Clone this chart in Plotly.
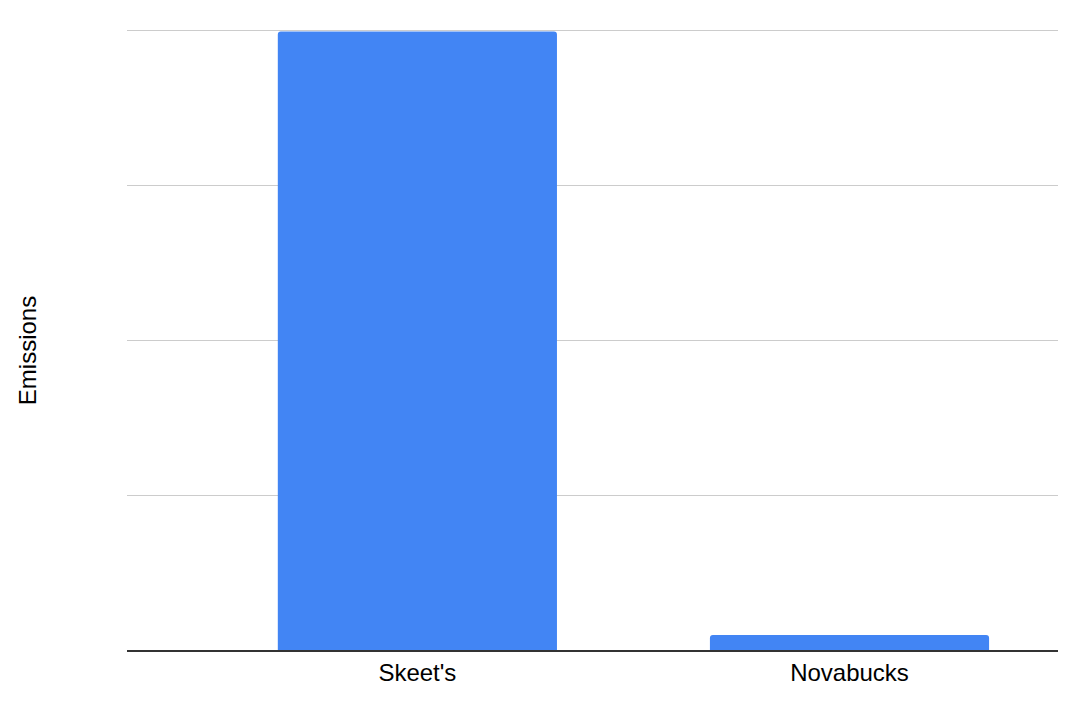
import plotly.graph_objects as go

categories = ["Skeet's", "Novabucks"]
emissions = [399.2, 9.7]
y_ticks = [0, 100, 200, 300, 400]

fig = go.Figure(go.Bar(
    x=categories, y=emissions,
    marker=dict(color="#4285F4", cornerradius=3, line=dict(width=0)),
    width=0.646,
))

fig.update_layout(
    width=1058, height=700,
    margin=dict(l=119, r=0, t=16, b=58),
    paper_bgcolor="white", plot_bgcolor="white",
    font=dict(family="Liberation Sans, Arial, sans-serif", size=24, color="#000"),
    showlegend=False,
    xaxis=dict(range=[-0.672, 1.501], showline=True, linecolor="#333", linewidth=2,
               ticks="", showgrid=False, tickfont=dict(size=24), fixedrange=True),
    yaxis=dict(range=[0, 404], tickvals=y_ticks, showticklabels=False, showgrid=True,
               gridcolor="#cccccc", gridwidth=1, zeroline=False, ticks="",
               automargin=False, fixedrange=True),
    annotations=[dict(text="Emissions", textangle=-90, xref="paper", yref="paper",
                      x=-0.1065, y=0.479, xanchor="center", yanchor="middle",
                      showarrow=False, font=dict(size=24, color="#000"))],
)

fig.write_html("out.html")
